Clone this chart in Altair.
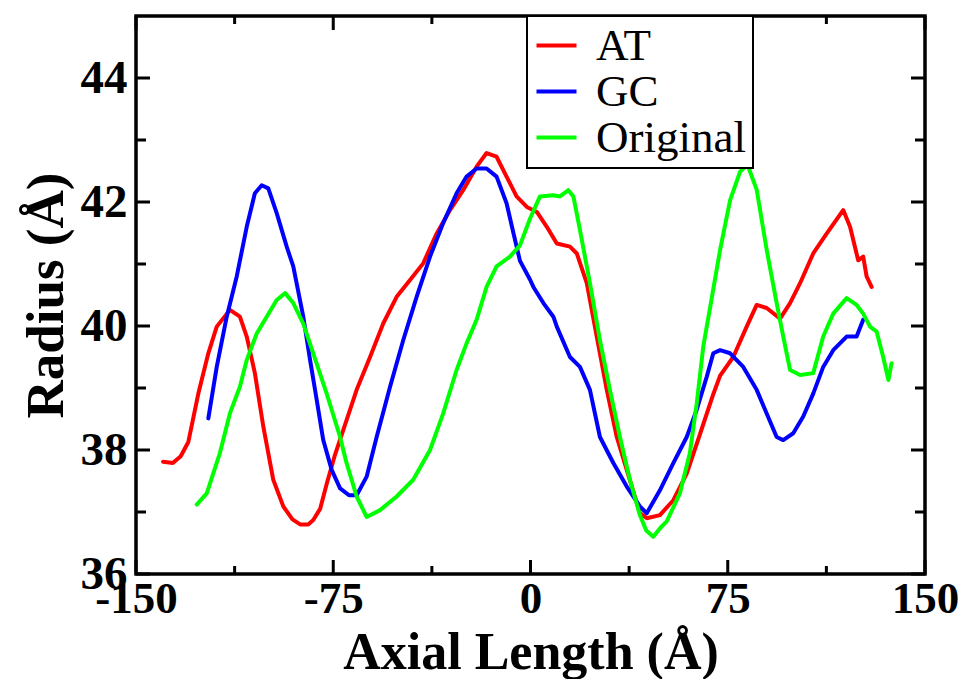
import altair as alt
import pandas as pd

# ---- data ----
AT_x = [-139.7, -136.0, -133.0, -130.1, -126.3, -122.5, -119.3, -114.3, -110.5, -107.9,
        -104.8, -101.6, -97.8, -94.0, -90.5, -87.6, -84.5, -82.6, -80.0, -77.5,
        -74.5, -71.2, -66.1, -61.0, -56.0, -50.9, -45.8, -40.8, -35.7, -30.6,
        -25.6, -20.5, -16.7, -12.9, -9.1, -5.3, -1.4, 2.4, 6.2, 10.0,
        15.0, 17.6, 21.4, 25.2, 29.0, 32.8, 36.6, 41.6, 44.2, 49.2,
        54.3, 59.4, 64.4, 69.5, 72.1, 77.1, 82.2, 86.0, 89.8, 94.9,
        98.7, 102.5, 107.5, 112.6, 118.9, 121.5, 124.6, 126.5, 127.8, 129.7]
AT_y = [37.81, 37.79, 37.90, 38.13, 38.91, 39.56, 39.99, 40.26, 40.15, 39.83,
        39.24, 38.38, 37.52, 37.09, 36.88, 36.80, 36.80, 36.87, 37.05, 37.45,
        37.90, 38.32, 38.97, 39.50, 40.04, 40.47, 40.74, 41.01, 41.49, 41.87,
        42.19, 42.57, 42.79, 42.73, 42.41, 42.09, 41.92, 41.84, 41.60, 41.33,
        41.28, 41.17, 40.69, 39.83, 38.97, 38.21, 37.68, 36.98, 36.90, 36.95,
        37.19, 37.62, 38.25, 38.90, 39.20, 39.50, 39.99, 40.34, 40.29, 40.12,
        40.37, 40.69, 41.17, 41.49, 41.87, 41.60, 41.06, 41.12, 40.80, 40.63]

GC_x = [-122.5, -119.3, -115.5, -111.7, -107.9, -104.8, -102.2, -99.7, -96.5, -92.7,
        -90.2, -86.4, -83.8, -81.3, -78.8, -75.6, -72.4, -69.0, -66.1, -62.3,
        -58.5, -53.4, -48.4, -43.3, -38.2, -33.2, -28.1, -24.3, -20.5, -16.7,
        -12.9, -9.1, -6.5, -4.0, -0.2, 1.1, 4.9, 8.7, 10.0, 15.0,
        18.8, 22.6, 26.4, 31.5, 36.6, 41.6, 44.2, 49.2, 54.3, 59.4,
        63.2, 67.0, 69.5, 72.1, 75.9, 80.9, 86.0, 89.8, 93.6, 96.1,
        99.9, 103.7, 107.5, 111.3, 115.1, 120.2, 124.0, 126.5]
GC_y = [38.51, 39.34, 40.15, 40.80, 41.60, 42.14, 42.27, 42.22, 41.82, 41.28,
        40.96, 40.15, 39.45, 38.81, 38.16, 37.68, 37.38, 37.27, 37.27, 37.57,
        38.21, 39.02, 39.77, 40.47, 41.12, 41.66, 42.14, 42.41, 42.54, 42.54,
        42.41, 41.98, 41.50, 41.05, 40.75, 40.63, 40.37, 40.15, 39.99, 39.50,
        39.34, 38.97, 38.21, 37.79, 37.41, 37.09, 36.98, 37.35, 37.79, 38.21,
        38.65, 39.18, 39.56, 39.61, 39.56, 39.34, 38.97, 38.59, 38.21, 38.16,
        38.27, 38.54, 38.91, 39.34, 39.61, 39.83, 39.83, 40.10]

OR_x = [-126.9, -123.1, -118.1, -114.3, -110.5, -107.9, -104.1, -100.3, -96.5, -93.3,
        -90.2, -86.4, -82.6, -77.5, -72.4, -70.0, -66.1, -62.3, -57.2, -50.9,
        -44.6, -38.2, -33.2, -28.1, -24.3, -20.5, -16.7, -12.9, -7.8, -4.0,
        -0.2, 3.6, 8.7, 11.2, 14.4, 16.3, 18.8, 22.6, 26.4, 30.2,
        34.0, 37.8, 41.6, 44.0, 46.7, 49.5, 51.8, 56.8, 60.6, 63.2,
        65.7, 68.3, 72.1, 75.9, 79.7, 82.5, 86.0, 89.8, 93.6, 96.1,
        98.7, 102.5, 107.5, 111.3, 115.1, 120.2, 124.0, 126.5, 129.1, 131.6,
        134.1, 136.1, 137.3]
OR_y = [37.12, 37.30, 37.95, 38.59, 39.02, 39.45, 39.88, 40.15, 40.42, 40.53,
        40.37, 40.04, 39.56, 38.91, 38.21, 37.80, 37.25, 36.92, 37.03, 37.25,
        37.52, 38.00, 38.59, 39.29, 39.72, 40.10, 40.63, 40.96, 41.12, 41.30,
        41.73, 42.09, 42.11, 42.09, 42.19, 42.09, 41.55, 40.69, 39.77, 38.97,
        38.21, 37.52, 36.95, 36.70, 36.60, 36.75, 36.85, 37.30, 37.95, 38.75,
        39.67, 40.30, 41.23, 42.03, 42.49, 42.60, 42.20, 41.23, 40.37, 39.83,
        39.29, 39.21, 39.24, 39.83, 40.20, 40.45, 40.34, 40.20, 39.99, 39.91,
        39.50, 39.13, 39.40]

SERIES = ["AT", "GC", "Original"]
COLORS = ["#ff0000", "#0000ff", "#00ff00"]

X_MAJOR = [-150, -75, 0, 75, 150]
X_MINOR = [-112.5, -37.5, 37.5, 112.5]
Y_MAJOR = [36, 38, 40, 42, 44]
Y_MINOR = [37, 39, 41, 43]

# ---- build table ----
rows = []
for name, xs_, ys_ in zip(SERIES, [AT_x, GC_x, OR_x], [AT_y, GC_y, OR_y]):
    for i, (a, b) in enumerate(zip(xs_, ys_)):
        rows.append({"series": name, "x": a, "y": b, "i": i})
df = pd.DataFrame(rows)

W, H = 789, 558
FONT = "Liberation Serif"
xs = alt.Scale(domain=[-150, 150], nice=False, zero=False)
ys = alt.Scale(domain=[36, 45], nice=False, zero=False)

X_AXIS = alt.Axis(
    values=X_MAJOR, title="Axial Length (Å)", ticks=False, tickSize=0, domain=False,
    grid=False, labelFont=FONT, labelFontSize=45, labelFontWeight="bold",
    labelColor="black", labelPadding=2, labelFlush=False, labelOverlap=False,
    labelExpr="'' + datum.value",
    titleFont=FONT, titleFontSize=52, titleFontWeight="bold", titleColor="black",
    titleX=W / 2, titleY=94, titleBaseline="alphabetic")
Y_AXIS = alt.Axis(
    values=Y_MAJOR, title="Radius (Å)", ticks=False, tickSize=0, domain=False,
    grid=False, labelFont=FONT, labelFontSize=47, labelFontWeight="bold",
    labelColor="black", labelPadding=9, labelFlush=False, labelOverlap=False,
    titleFont=FONT, titleFontSize=53, titleFontWeight="bold", titleColor="black",
    titleX=-74, titleY=H / 2, titleBaseline="alphabetic")

lines = alt.Chart(df).mark_line(strokeWidth=4, strokeJoin="round", strokeCap="round").encode(
    x=alt.X("x:Q", scale=xs, axis=X_AXIS),
    y=alt.Y("y:Q", scale=ys, axis=Y_AXIS),
    color=alt.Color("series:N", scale=alt.Scale(domain=SERIES, range=COLORS),
                    legend=alt.Legend(
                        orient="none", legendX=391, legendY=0, title=None,
                        labelFont=FONT, labelFontSize=45, labelColor="black",
                        symbolType="stroke", symbolSize=1600, symbolStrokeWidth=4,
                        strokeColor="black", fillColor="white", padding=7,
                        rowPadding=0, labelOffset=17)),
    order="i:Q",
)


def xticks(vals, y0, y1):
    return alt.Chart(pd.DataFrame({"v": vals})).mark_rule(color="black", strokeWidth=3).encode(
        x=alt.X("v:Q", scale=xs, axis=X_AXIS), y=alt.value(y0), y2=alt.value(y1))


def yticks(vals, x0, x1):
    return alt.Chart(pd.DataFrame({"v": vals})).mark_rule(color="black", strokeWidth=3).encode(
        y=alt.Y("v:Q", scale=ys, axis=Y_AXIS), x=alt.value(x0), x2=alt.value(x1))


chart = alt.layer(
    lines,
    xticks(X_MAJOR, H, H - 14), xticks(X_MINOR, H, H - 8),
    xticks(X_MAJOR, 0, 14), xticks(X_MINOR, 0, 8),
    yticks(Y_MAJOR, 0, 14), yticks(Y_MINOR, 0, 10),
    yticks(Y_MAJOR, W, W - 14), yticks(Y_MINOR, W, W - 10),
).properties(
    width=W, height=H,
    padding={"left": 128, "top": 8, "right": 34, "bottom": 105},
    autosize=alt.AutoSizeParams(type="none"),
).configure_view(stroke="black", strokeWidth=3.5).configure_legend(strokeWidth=2)

chart.save("out.html", embed_options={"renderer": "svg", "actions": False})
